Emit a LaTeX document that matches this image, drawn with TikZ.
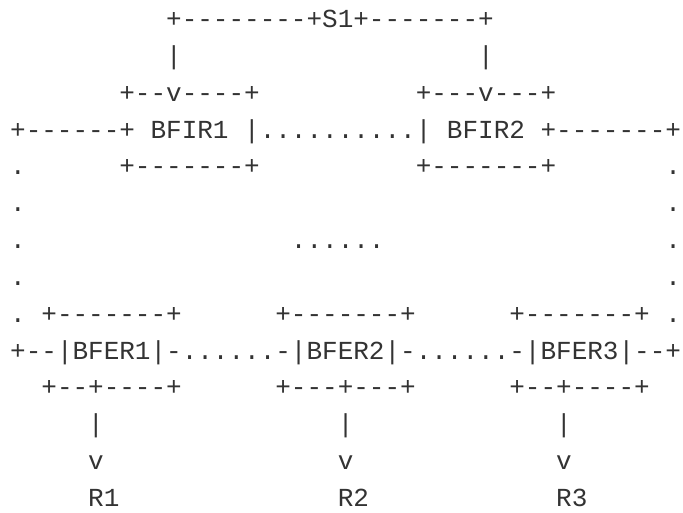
\documentclass[tikz,border=0pt]{standalone}
\usepackage{fontspec}
\setmonofont{Liberation Mono}
\usepackage{tikz}

\tikzset{
	ascii/.style={font=\ttfamily\fontsize{26}{30}\selectfont, text=black!80, anchor=base west, inner sep=0pt, outer sep=0pt}
}

\begin{document}
\begin{tikzpicture}[x=15.6pt, y=-36.85pt, every node/.style={ascii}]
			\useasboundingbox (-.654, -.746) rectangle (43.13, 13.175);
			\node (s1left) at (10, 0) {+--------+};
			\node (s1) at (20, 0) {S1};
			\node (s1right) at (22, 0) {+-------+};
			\node (pipe1) at (10, 1) {|};
			\node (pipe2) at (30, 1) {|};
			\node (bfir1top) at (7, 2) {+--v----+};
			\node (bfir2top) at (26, 2) {+---v---+};
			\node (leftarm) at (0, 3) {+------+};
			\node (bfir1) at (9, 3) {BFIR1};
			\node (bfirlink) at (15, 3) {|..........|};
			\node (bfir2) at (28, 3) {BFIR2};
			\node (rightarm) at (34, 3) {+-------+};
			\node (dotl4) at (0, 4) {.};
			\node (bfir1bot) at (7, 4) {+-------+};
			\node (bfir2bot) at (26, 4) {+-------+};
			\node (dotr4) at (42, 4) {.};
			\node (dotl5) at (0, 5) {.};
			\node (dotr5) at (42, 5) {.};
			\node (dotl6) at (0, 6) {.};
			\node (cloud) at (18, 6) {......};
			\node (dotr6) at (42, 6) {.};
			\node (dotl7) at (0, 7) {.};
			\node (dotr7) at (42, 7) {.};
			\node (dotl8) at (0, 8) {.};
			\node (bfer1top) at (2, 8) {+-------+};
			\node (bfer2top) at (17, 8) {+-------+};
			\node (bfer3top) at (32, 8) {+-------+};
			\node (dotr8) at (42, 8) {.};
			\node (lowleft) at (0, 9) {+--};
			\node (bfer1) at (3, 9) {|BFER1|};
			\node (link12) at (10, 9) {-......-};
			\node (bfer2) at (18, 9) {|BFER2|};
			\node (link23) at (25, 9) {-......-};
			\node (bfer3) at (33, 9) {|BFER3|};
			\node (lowright) at (40, 9) {--+};
			\node (bfer1bot) at (2, 10) {+--+----+};
			\node (bfer2bot) at (17, 10) {+---+---+};
			\node (bfer3bot) at (32, 10) {+--+----+};
			\node (pipe3) at (5, 11) {|};
			\node (pipe4) at (21, 11) {|};
			\node (pipe5) at (35, 11) {|};
			\node (arr1) at (5, 12) {v};
			\node (arr2) at (21, 12) {v};
			\node (arr3) at (35, 12) {v};
			\node (r1) at (5, 13) {R1};
			\node (r2) at (21, 13) {R2};
			\node (r3) at (35, 13) {R3};
		\end{tikzpicture}
\end{document}
